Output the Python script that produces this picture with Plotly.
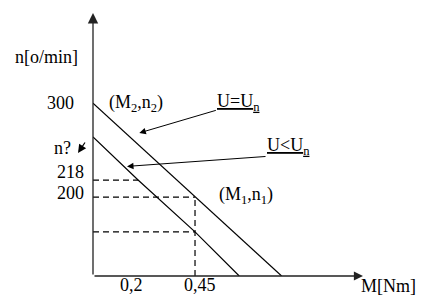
import numpy as np
import plotly.graph_objects as go

# ---- data ----
M_un = [0.0, 0.45, 0.832]        # U = Un line, torque [Nm]
n_un = [300, 200, 116]           # speed [o/min]
M_lo = [0.0, 0.2, 0.45, 0.645]   # U < Un line
n_lo = [264, 218, 163, 116]

M_ticks = [0.2, 0.45]
M_tick_text = ["0,2", "0,45"]
n_ticks = [300, 218, 200]
n_tick_text = ["300", "218", "200"]

x_range = [0.0, 1.191]
y_range = [116, 396]

FONT = dict(family="Liberation Serif", size=18, color="black")

fig = go.Figure()
fig.add_trace(go.Scatter(x=M_un, y=n_un, mode="lines",
                         line=dict(color="black", width=1.2), showlegend=False))
fig.add_trace(go.Scatter(x=M_lo, y=n_lo, mode="lines",
                         line=dict(color="black", width=1.2), showlegend=False))

dash = dict(color="black", width=1.2, dash="6px,4px")
# guide lines
fig.add_trace(go.Scatter(x=[0, M_lo[1]], y=[n_lo[1], n_lo[1]], mode="lines", line=dash, showlegend=False))
fig.add_trace(go.Scatter(x=[0, M_un[1]], y=[n_un[1], n_un[1]], mode="lines", line=dash, showlegend=False))
fig.add_trace(go.Scatter(x=[M_un[1], M_un[1]], y=[y_range[0], n_un[1]], mode="lines", line=dash, showlegend=False))
fig.add_trace(go.Scatter(x=[0, M_lo[2]], y=[n_lo[2], n_lo[2]], mode="lines", line=dash, showlegend=False))

ann = []
# axes with arrows
ann.append(dict(x=0, y=y_range[1], ax=0, ay=y_range[0], xref="x", yref="y", axref="x", ayref="y",
                text="", showarrow=True, arrowhead=2, arrowsize=1.6, arrowwidth=1.3, arrowcolor="#222"))
ann.append(dict(x=x_range[1], y=y_range[0], ax=0, ay=y_range[0], xref="x", yref="y", axref="x", ayref="y",
                text="", showarrow=True, arrowhead=2, arrowsize=1.4, arrowwidth=1.3, arrowcolor="#222"))

# axis titles
ann.append(dict(x=0, y=y_range[1], xref="x", yref="y", text="n[o/min]", showarrow=False,
                xanchor="center", yanchor="middle", xshift=-47, yshift=-44, font=FONT))
ann.append(dict(x=x_range[1], y=y_range[0], xref="x", yref="y", text="M[Nm]", showarrow=False,
                xanchor="left", yanchor="middle", xshift=-4, yshift=-10, font=FONT))

# y tick labels
y_shifts = {300: (-17, 0.5), 218: (-7, 8), 200: (-7, 4)}
for v, t in zip(n_ticks, n_tick_text):
    xs, ys = y_shifts[v]
    ann.append(dict(x=0, y=v, xref="x", yref="y", text=t, showarrow=False,
                    xanchor="right", yanchor="middle", xshift=xs, yshift=ys, font=FONT))
# n? label
ann.append(dict(x=0, y=n_lo[0], xref="x", yref="y", text="n?", showarrow=False,
                xanchor="right", yanchor="middle", xshift=-20, yshift=-11, font=FONT))
ann.append(dict(x=0, y=n_lo[0], xref="x", yref="y", text="", showarrow=True,
                xshift=-15, yshift=-16, ax=8, ay=-12, arrowhead=2, arrowsize=1.4, arrowwidth=1.2,
                arrowcolor="black", standoff=0, startstandoff=0))

# x tick labels
x_shifts = {0.2: -7, 0.45: 5}
for v, t in zip(M_ticks, M_tick_text):
    ann.append(dict(x=v, y=y_range[0], xref="x", yref="y", text=t, showarrow=False,
                    xanchor="center", yanchor="middle", xshift=x_shifts[v], yshift=-9, font=FONT))

# point labels
ann.append(dict(x=M_un[0], y=n_un[0], xref="x", yref="y", text="(M<sub>2</sub>,n<sub>2</sub>)",
                showarrow=False, xanchor="left", yanchor="middle", xshift=14, yshift=0, font=FONT))
ann.append(dict(x=M_un[1], y=n_un[1], xref="x", yref="y", text="(M<sub>1</sub>,n<sub>1</sub>)",
                showarrow=False, xanchor="left", yanchor="middle", xshift=22, yshift=2, font=FONT))

# series labels with pointer arrows
m_a = 0.2
n_a = float(np.interp(m_a, M_un, n_un))
ann.append(dict(x=m_a, y=n_a, xref="x", yref="y", text="", showarrow=True,
                xshift=1, yshift=12, ax=78, ay=-23, arrowhead=2, arrowsize=1.3, arrowwidth=1.0,
                arrowcolor="black"))
ann.append(dict(x=m_a, y=n_a, xref="x", yref="y",
                text='<span style="text-decoration:underline">U=U<sub>n</sub></span>',
                showarrow=False, xanchor="left", yanchor="middle", xshift=76.7, yshift=42.5, font=FONT))

m_b = 0.15
n_b = float(np.interp(m_b, M_lo, n_lo))
ann.append(dict(x=m_b, y=n_b, xref="x", yref="y", text="", showarrow=True,
                xshift=0, yshift=3, ax=140, ay=-10, arrowhead=2, arrowsize=1.3, arrowwidth=1.0,
                arrowcolor="black"))
ann.append(dict(x=m_b, y=n_b, xref="x", yref="y",
                text='<span style="text-decoration:underline">U&lt;U<sub>n</sub></span>',
                showarrow=False, xanchor="left", yanchor="middle", xshift=138, yshift=23.3, font=FONT))

fig.update_layout(
    width=430, height=302,
    margin=dict(l=93, r=67, t=13, b=26),
    paper_bgcolor="white", plot_bgcolor="white",
    annotations=ann,
    xaxis=dict(range=x_range, showgrid=False, zeroline=False, showticklabels=False, showline=False),
    yaxis=dict(range=y_range, showgrid=False, zeroline=False, showticklabels=False, showline=False),
    font=FONT,
)

fig.write_html("out.html")
